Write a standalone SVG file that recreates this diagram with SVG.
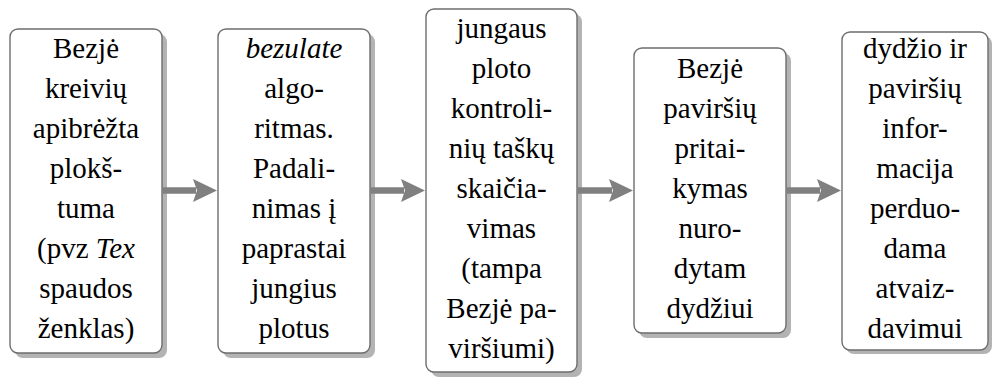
<svg xmlns="http://www.w3.org/2000/svg" width="992" height="378" viewBox="0 0 992 378">
<defs>
<style>
.shadow{fill:#b3b3b3;}
.box{fill:#ffffff;stroke:#6e6e6e;stroke-width:1.4;}
.t{font-family:'Liberation Serif','Times New Roman',serif;font-size:29px;fill:#000;text-anchor:middle;}
.it{font-style:italic;}
.conn line{stroke:#808080;stroke-width:6.5;}
.conn path{fill:#808080;stroke:none;}
</style>
</defs>
<rect width="992" height="378" fill="#ffffff"/>
<g id="n1">
<rect class="shadow" x="15" y="34" width="152" height="324" rx="8"/>
<rect class="box" x="10" y="29" width="152" height="324" rx="8"/>
<text class="t" x="86" y="58">Bezjė</text>
<text class="t" x="86" y="98">kreivių</text>
<text class="t" x="86" y="138">apibrėžta</text>
<text class="t" x="86" y="178">plokš-</text>
<text class="t" x="86" y="218">tuma</text>
<text class="t" x="86" y="258">(pvz <tspan class="it">Tex</tspan></text>
<text class="t" x="86" y="298">spaudos</text>
<text class="t" x="86" y="338">ženklas)</text>
</g>
<g id="n2">
<rect class="shadow" x="223" y="34" width="152" height="324" rx="8"/>
<rect class="box" x="218" y="29" width="152" height="324" rx="8"/>
<text class="t it" x="294" y="58">bezulate</text>
<text class="t" x="294" y="98">algo-</text>
<text class="t" x="294" y="138">ritmas.</text>
<text class="t" x="294" y="178">Padali-</text>
<text class="t" x="294" y="218">nimas į</text>
<text class="t" x="294" y="258">paprastai</text>
<text class="t" x="294" y="298">jungius</text>
<text class="t" x="294" y="338">plotus</text>
</g>
<g id="n3">
<rect class="shadow" x="431" y="14" width="151" height="363" rx="8"/>
<rect class="box" x="426" y="9" width="151" height="363" rx="8"/>
<text class="t" x="501.5" y="38">jungaus</text>
<text class="t" x="501.5" y="78">ploto</text>
<text class="t" x="501.5" y="118">kontroli-</text>
<text class="t" x="501.5" y="158">nių taškų</text>
<text class="t" x="501.5" y="198">skaičia-</text>
<text class="t" x="501.5" y="238">vimas</text>
<text class="t" x="501.5" y="278">(tampa</text>
<text class="t" x="501.5" y="318">Bezjė pa-</text>
<text class="t" x="501.5" y="358">viršiumi)</text>
</g>
<g id="n4">
<rect class="shadow" x="639" y="53" width="152" height="285" rx="8"/>
<rect class="box" x="634" y="48" width="152" height="285" rx="8"/>
<text class="t" x="710" y="78">Bezjė</text>
<text class="t" x="710" y="118">paviršių</text>
<text class="t" x="710" y="158">pritai-</text>
<text class="t" x="710" y="198">kymas</text>
<text class="t" x="710" y="238">nuro-</text>
<text class="t" x="710" y="278">dytam</text>
<text class="t" x="710" y="318">dydžiui</text>
</g>
<g id="n5">
<rect class="shadow" x="846" y="36" width="146" height="318" rx="8"/>
<rect class="box" x="842" y="32" width="146" height="318" rx="8"/>
<text class="t" x="915" y="58">dydžio ir</text>
<text class="t" x="915" y="98">paviršių</text>
<text class="t" x="915" y="138">infor-</text>
<text class="t" x="915" y="178">macija</text>
<text class="t" x="915" y="218">perduo-</text>
<text class="t" x="915" y="258">dama</text>
<text class="t" x="915" y="298">atvaiz-</text>
<text class="t" x="915" y="338">davimui</text>
</g>
<g id="connectors" class="conn">
<line x1="163" y1="190.5" x2="196" y2="190.5"/>
<path d="M193,179 L217,190.5 L193,202 L197,190.5 Z"/>
<line x1="371" y1="190.5" x2="404" y2="190.5"/>
<path d="M401,179 L425,190.5 L401,202 L405,190.5 Z"/>
<line x1="578" y1="190.5" x2="612" y2="190.5"/>
<path d="M609,179 L633,190.5 L609,202 L613,190.5 Z"/>
<line x1="787" y1="190.5" x2="820" y2="190.5"/>
<path d="M817,179 L841,190.5 L817,202 L821,190.5 Z"/>
</g>
</svg>
